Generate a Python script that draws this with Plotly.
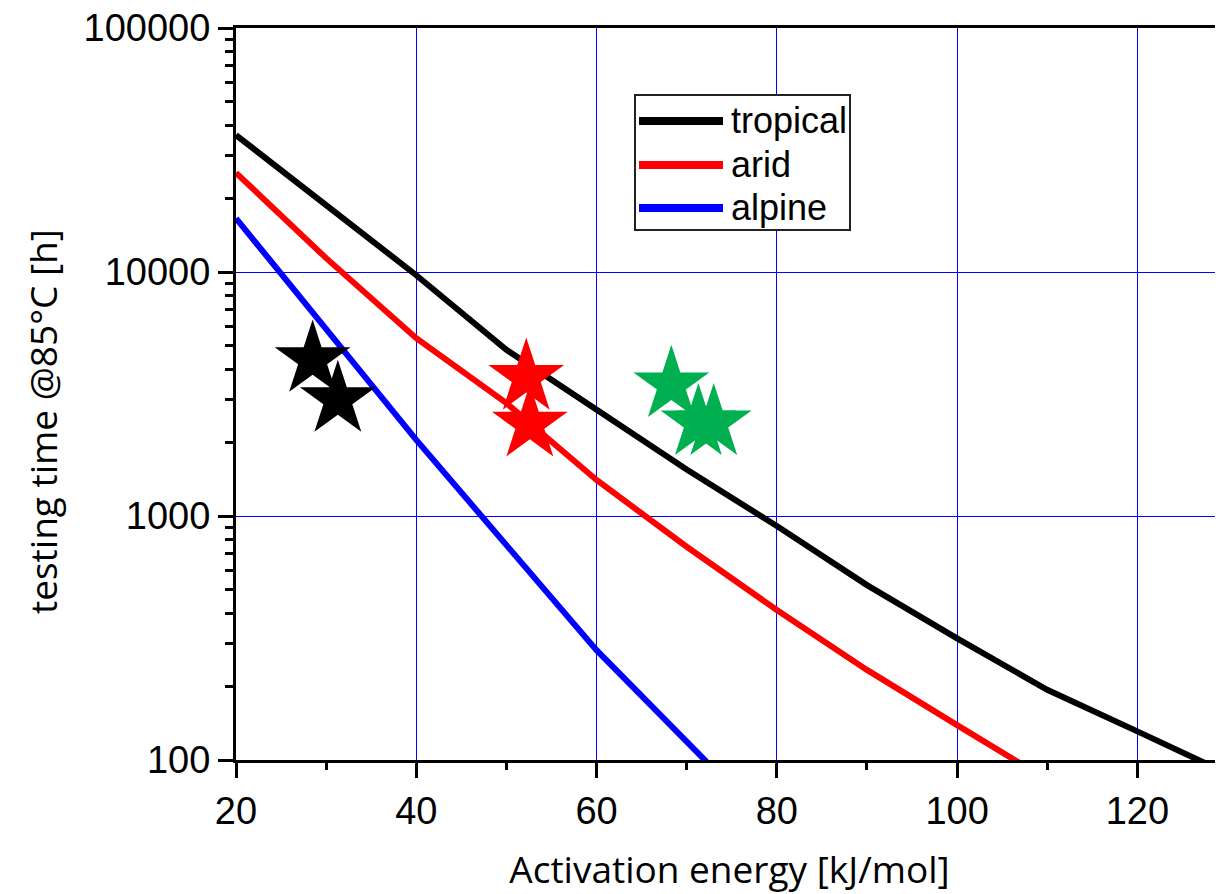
import plotly.graph_objects as go

# ---- data ----
energy_tropical = [20, 30, 40, 50, 60, 70, 80, 90, 100, 110, 120, 130]
tropical = [36400, 18800, 9700, 4800, 2740, 1550, 910, 521, 315, 194, 131, 88]
energy_arid = [20, 30, 40, 50, 60, 70, 80, 90, 100, 110]
arid = [25500, 11400, 5350, 2900, 1405, 748, 412, 234, 139, 83]
energy_alpine = [20, 30, 40, 50, 60, 70, 80]
alpine = [16600, 5850, 2050, 760, 282, 119, 50]

stars_black_x = [28.5, 31.3]
stars_black_y = [4380, 3000]
stars_red_x = [52.2, 52.6]
stars_red_y = [3700, 2380]
stars_green_x = [68.3, 71.3, 73.0]
stars_green_y = [3450, 2410, 2410]

series_names = ["tropical", "arid", "alpine"]
series_colors = ["#000000", "#ff0000", "#0000ff"]
y_tick_vals = [100, 1000, 10000, 100000]
y_tick_text = ["100", "1000", "10000", "100000"]

# page has an 8px body margin; compensate so plot area sits at page px 236..1223, 28..760
BODY = 8
ML, MR, MT, MB = 228, 0, 20, 134
PW, PH = 987, 732
W, H = ML + PW + MR, MT + PH + MB
PLOT_LEFT, PLOT_TOP = BODY + ML, BODY + MT


def px_x(p):
    return (p - PLOT_LEFT) / PW


def px_y(p):
    return 1 - (p - PLOT_TOP) / PH


fig = go.Figure()
for xs, ys, name, col in [
    (energy_tropical, tropical, series_names[0], series_colors[0]),
    (energy_arid, arid, series_names[1], series_colors[1]),
    (energy_alpine, alpine, series_names[2], series_colors[2]),
]:
    fig.add_trace(go.Scatter(x=xs, y=ys, mode="lines", name=name,
                             line=dict(color=col, width=6), showlegend=False))

for xs, ys, col in [
    (stars_black_x, stars_black_y, "#000000"),
    (stars_red_x, stars_red_y, "#ff0000"),
    (stars_green_x, stars_green_y, "#00b050"),
]:
    fig.add_trace(go.Scatter(x=xs, y=ys, mode="markers", showlegend=False,
                             marker=dict(symbol="star", size=57, color=col,
                                         line=dict(width=0))))

minor_vals = [m * 10 ** d for d in range(2, 5) for m in range(2, 10)]

tick_font = dict(family="Liberation Sans, Arial, sans-serif", size=38, color="#000")
title_font = dict(family="Open Sans, sans-serif", size=37, color="#000")

fig.update_layout(
    width=W, height=H,
    margin=dict(l=ML, r=MR, t=MT, b=MB, autoexpand=False),
    paper_bgcolor="white", plot_bgcolor="white",
    xaxis=dict(
        range=[20, 129.5], tick0=0, dtick=20,
        showgrid=True, gridcolor="#0000ff", gridwidth=1,
        zeroline=False, showline=True, linecolor="#000", linewidth=3,
        mirror=True,
        ticks="outside", ticklen=15, tickwidth=3, tickcolor="#000",
        tickfont=tick_font, ticklabeloverflow="allow",
        minor=dict(dtick=10, tick0=0, ticks="outside", ticklen=7, tickwidth=3,
                   tickcolor="#000", showgrid=False),
        title=dict(text="Activation energy [kJ/mol]", font=title_font, standoff=32),
    ),
    yaxis=dict(
        type="log", range=[1.99999, 5.00001],
        tickmode="array", tickvals=y_tick_vals, ticktext=y_tick_text,
        showgrid=True, gridcolor="#0000ff", gridwidth=1,
        zeroline=False, showline=True, linecolor="#000", linewidth=3,
        ticks="outside", ticklen=15, tickwidth=3, tickcolor="#000",
        tickfont=tick_font, ticklabeloverflow="allow",
        minor=dict(tickmode="array", tickvals=minor_vals, ticks="outside",
                   ticklen=8, tickwidth=3, tickcolor="#000", showgrid=False),
    ),
)

# y-axis title (placed slightly below the plot centre, as in the reference)
fig.add_annotation(xref="paper", yref="paper", x=px_x(42), y=px_y(422),
                   text="testing time @85°C [h]", textangle=-90, showarrow=False,
                   xanchor="center", yanchor="middle", font=title_font)

# custom legend box
fig.add_shape(type="rect", xref="paper", yref="paper",
              x0=px_x(635), x1=px_x(850), y0=px_y(230), y1=px_y(95),
              line=dict(color="#222", width=2), fillcolor="white", layer="above")
for i, (name, col) in enumerate(zip(series_names, series_colors)):
    yy = [121, 165, 208][i]
    fig.add_shape(type="line", xref="paper", yref="paper",
                  x0=px_x(639), x1=px_x(723), y0=px_y(yy), y1=px_y(yy),
                  line=dict(color=col, width=8), layer="above")
    fig.add_annotation(xref="paper", yref="paper", x=px_x(729), y=px_y(yy - 1),
                       text=name, showarrow=False, xanchor="left", yanchor="middle",
                       font=dict(family="Liberation Sans, Arial, sans-serif", size=36, color="#000"))

fig.write_html("out.html")
